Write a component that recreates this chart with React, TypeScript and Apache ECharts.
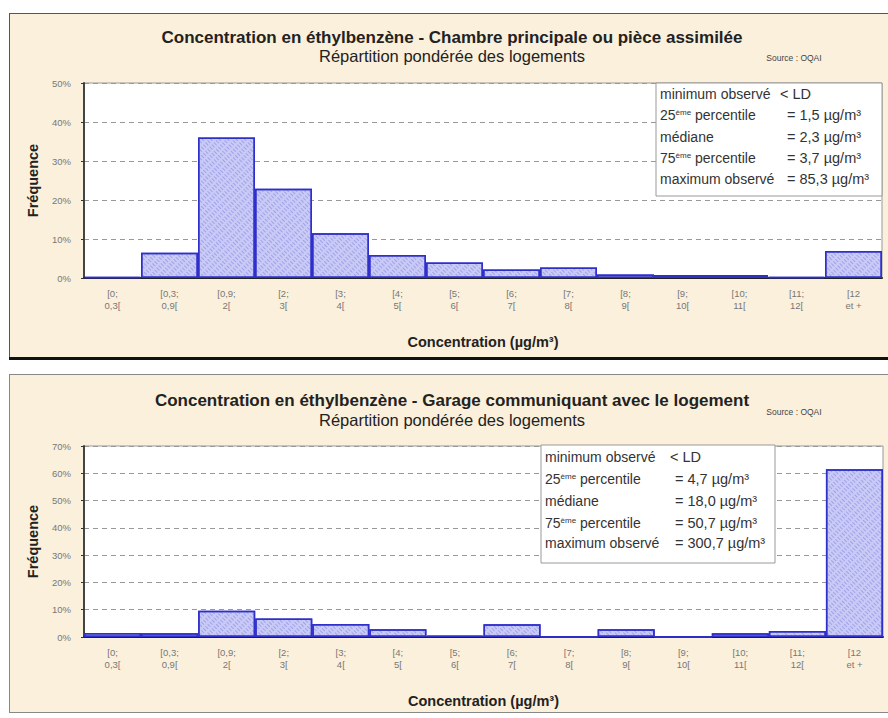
import React, { useEffect, useRef } from "react";
import * as echarts from "echarts";

const categories = [
  "[0;\n0,3[", "[0,3;\n0,9[", "[0,9;\n2[", "[2;\n3[", "[3;\n4[", "[4;\n5[", "[5;\n6[",
  "[6;\n7[", "[7;\n8[", "[8;\n9[", "[9;\n10[", "[10;\n11[", "[11;\n12[", "[12\net +",
];
const chambreValues = [0.3, 6.5, 36.0, 22.9, 11.5, 5.9, 4.0, 2.2, 2.7, 0.9, 0.8, 0.8, 0.3, 6.9];
const garageValues = [1.5, 1.4, 9.6, 6.8, 4.8, 2.8, 0.5, 4.7, 0, 2.8, 0, 1.4, 2.2, 61.5];

const chambreTitle = "Concentration en éthylbenzène - Chambre principale ou pièce assimilée";
const garageTitle = "Concentration en éthylbenzène - Garage communiquant avec le logement";
const subtitle = "Répartition pondérée des logements";
const sourceText = "Source : OQAI";

const statLabels = ["minimum observé", "25{sup|ème} percentile", "médiane", "75{sup|ème} percentile", "maximum observé"];
const chambreStats = ["< LD", "= 1,5 µg/m³", "= 2,3 µg/m³", "= 3,7 µg/m³", "= 85,3 µg/m³"];
const garageStats = ["< LD", "= 4,7 µg/m³", "= 18,0 µg/m³", "= 50,7 µg/m³", "= 300,7 µg/m³"];

const FONT = "Liberation Sans, Arial, sans-serif";

function statsBox(x: number, y: number, w: number, h: number, ldX: number, valueX: number, values: string[], rowYs: number[]) {
  const children: any[] = [
    { type: "rect", z: 100, shape: { x: 0, y: 0, width: w, height: h }, style: { fill: "#fff", stroke: "#999", lineWidth: 1 } },
  ];
  statLabels.forEach((lab, i) => {
    children.push({
      type: "text",
      z: 101,
      x: 4,
      y: rowYs[i],
      style: {
        text: lab,
        fontFamily: FONT,
        fontSize: 14,
        fill: "#333",
        verticalAlign: "middle",
        rich: { sup: { fontSize: 8, verticalAlign: "top", fill: "#333", fontFamily: FONT } },
      },
    });
    children.push({
      type: "text",
      z: 101,
      x: i === 0 ? ldX : valueX,
      y: rowYs[i],
      style: { text: values[i], fontFamily: FONT, fontSize: 14.5, fill: "#333", verticalAlign: "middle" },
    });
  });
  return { type: "group", x, y, children };
}

export default function App() {
  const ref = useRef<HTMLDivElement>(null);
  useEffect(() => {
    if (!ref.current) return;
    const chart = echarts.init(ref.current, undefined, { renderer: "svg" });
    const barStyle = {
      color: "#c9cbf6",
      borderColor: "#2f2fcc",
      borderWidth: 1.5,
      decal: {
        symbol: "rect",
        symbolSize: 1,
        dashArrayX: [4, 2],
        dashArrayY: [1, 2],
        rotation: Math.PI / 4,
        color: "rgba(110,110,215,0.45)",
      },
    };
    const xAxisCommon = (gridIndex: number) => ({
      type: "category",
      gridIndex,
      data: categories,
      axisLine: { lineStyle: { color: "#222", width: 2 } },
      axisTick: { show: false },
      axisLabel: { fontFamily: FONT, fontSize: 9.5, color: "#777", lineHeight: 12, margin: 9, interval: 0 },
      name: "Concentration (µg/m³)",
      nameLocation: "middle",
      nameGap: 56,
      nameTextStyle: { fontFamily: FONT, fontSize: 14.5, fontWeight: "bold", color: "#222" },
    });
    const yAxisCommon = (gridIndex: number, max: number) => ({
      type: "value",
      gridIndex,
      min: 0,
      max,
      interval: 10,
      axisLine: { show: true, lineStyle: { color: "#444", width: 2 } },
      axisTick: { show: true, inside: false, length: 3, lineStyle: { color: "#333" } },
      axisLabel: { fontFamily: FONT, fontSize: 9.5, color: "#777", formatter: "{value}%", margin: 13 },
      splitLine: { lineStyle: { color: "#999", type: [5, 4] } },
      name: "Fréquence",
      nameLocation: "middle",
      nameGap: 44,
      nameTextStyle: { fontFamily: FONT, fontSize: 14.5, fontWeight: "bold", color: "#222" },
    });
    const titleText = (text: string, y: number, size: number, bold: boolean) => ({
      type: "text",
      x: 452,
      y,
      style: {
        text,
        fontFamily: FONT,
        fontSize: size,
        fontWeight: bold ? "bold" : "normal",
        fill: "#222",
        align: "center",
        verticalAlign: "middle",
      },
    });
    chart.setOption({
      animation: false,
      backgroundColor: "transparent",
      grid: [
        { left: 84, right: 6, top: 83, height: 195, show: true, backgroundColor: "#fff", borderColor: "#999", borderWidth: 1 },
        { left: 84, right: 5, top: 446, height: 191, show: true, backgroundColor: "#fff", borderColor: "#999", borderWidth: 1 },
      ],
      xAxis: [xAxisCommon(0), xAxisCommon(1)],
      yAxis: [yAxisCommon(0, 50), yAxisCommon(1, 70)],
      series: [
        { type: "bar", xAxisIndex: 0, yAxisIndex: 0, data: chambreValues, barCategoryGap: "0%", itemStyle: barStyle },
        { type: "bar", xAxisIndex: 1, yAxisIndex: 1, data: garageValues, barCategoryGap: "0%", itemStyle: barStyle },
      ],
      graphic: {
        z: 100,
        zlevel: 1,
        elements: [
          titleText(chambreTitle, 37, 17, true),
          titleText(subtitle, 56, 16.5, false),
          titleText(garageTitle, 400, 17, true),
          titleText(subtitle, 420, 16.5, false),
          { type: "text", x: 794, y: 58, style: { text: sourceText, fontFamily: FONT, fontSize: 8.5, fill: "#444", align: "center", verticalAlign: "middle" } },
          { type: "text", x: 794, y: 412, style: { text: sourceText, fontFamily: FONT, fontSize: 8.5, fill: "#444", align: "center", verticalAlign: "middle" } },
          statsBox(656, 83, 226, 113, 124, 131, chambreStats, [11, 32, 54, 75, 96]),
          statsBox(541, 445, 234, 118, 129, 134, garageStats, [12, 34, 56, 78, 98]),
        ],
      },
    });
    return () => chart.dispose();
  }, []);
  return (
    <div style={{ position: "absolute", left: 0, top: 0, width: 888, height: 718, background: "#fff", overflow: "hidden" }}>
      <div style={{ position: "absolute", left: 9, top: 13, width: 880, height: 344, background: "#fbf0dc", border: "1px solid #555" }} />
      <div style={{ position: "absolute", left: 9, top: 357, width: 880, height: 3, background: "#111" }} />
      <div style={{ position: "absolute", left: 9, top: 374, width: 880, height: 337, background: "#fbf0dc", border: "1px solid #888" }} />
      <div ref={ref} style={{ position: "absolute", left: 0, top: 0, width: 888, height: 718 }} />
    </div>
  );
}
